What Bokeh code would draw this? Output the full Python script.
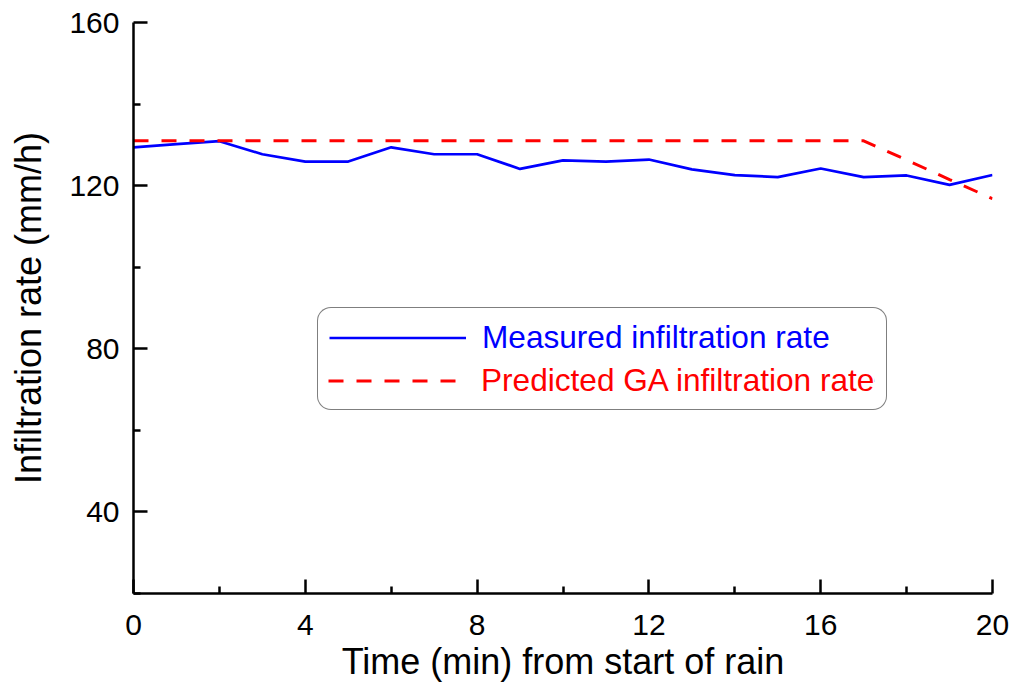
from bokeh.plotting import figure
from bokeh.models import Legend, LegendItem, FixedTicker
from bokeh.embed import file_html
from bokeh.resources import INLINE

# ---- data ----
time_min = [0, 1, 2, 3, 4, 5, 6, 7, 8, 9, 10, 11, 12, 13, 14, 15, 16, 17, 18, 19, 20]
measured = [129.4, 130.2, 130.9, 127.7, 125.9, 125.9, 129.4, 127.7, 127.7, 124.1, 126.2,
            125.9, 126.4, 124.0, 122.6, 122.1, 124.2, 122.1, 122.5, 120.2, 122.6]
predicted = [131.0, 131.0, 131.0, 131.0, 131.0, 131.0, 131.0, 131.0, 131.0, 131.0, 131.0,
             131.0, 131.0, 131.0, 131.0, 131.0, 131.0, 131.0, 126.3, 121.5, 116.8]
x_ticks = [0, 4, 8, 12, 16, 20]
x_minor = [2, 6, 10, 14, 18]
y_ticks = [40, 80, 120, 160]
y_minor = [20, 60, 100, 140]
label_measured = "Measured infiltration rate"
label_predicted = "Predicted GA infiltration rate"

FONT = "Liberation Sans"

p = figure(width=1012, height=684, x_range=(0, 20), y_range=(20, 160),
           output_backend="svg", toolbar_location=None,
           min_border_left=133, min_border_top=22, min_border_right=20, min_border_bottom=89)
p.outline_line_color = None
p.xgrid.visible = False
p.ygrid.visible = False
p.background_fill_color = "white"

r_meas = p.line(time_min, measured, line_color="#0000ff", line_width=2.7)
r_pred = p.line(time_min, predicted, line_color="#ff0000", line_width=3, line_dash="15 13")

for ax in (p.xaxis[0], p.yaxis[0]):
    ax.axis_line_width = 2.5
    ax.axis_line_color = "black"
    ax.major_tick_line_width = 2.5
    ax.minor_tick_line_width = 2.5
    ax.major_tick_in = 14
    ax.major_tick_out = 0
    ax.minor_tick_in = 7
    ax.minor_tick_out = 0
    ax.major_label_text_font = FONT
    ax.major_label_text_font_size = "30px"
    ax.major_label_text_color = "black"
    ax.axis_label_text_font = FONT
    ax.axis_label_text_font_size = "36px"
    ax.axis_label_text_font_style = "normal"
    ax.axis_label_text_color = "black"

p.xaxis.ticker = FixedTicker(ticks=x_ticks, minor_ticks=x_minor)
p.yaxis.ticker = FixedTicker(ticks=y_ticks, minor_ticks=y_minor)
p.xaxis.axis_label = "Time (min) from start of rain"
p.yaxis.axis_label = "Infiltration rate (mm/h)"
p.xaxis.major_label_standoff = 21
p.yaxis.major_label_standoff = 14
p.xaxis.axis_label_standoff = 3
p.yaxis.axis_label_standoff = 17

PAD = 11
LX, LY = 184, 183
common = dict(orientation="vertical", spacing=5, glyph_width=137, glyph_height=35,
              label_height=35, label_standoff=16, label_text_font=FONT,
              label_text_font_size="31.6px", margin=0)

legend_a = Legend(items=[LegendItem(label=label_measured, renderers=[r_meas]),
                         LegendItem(label=label_predicted, renderers=[r_pred])],
                  location=(LX, LY), padding=PAD, label_text_color="#0000ff",
                  border_line_color="black", border_line_width=1.5,
                  background_fill_color="white", background_fill_alpha=1.0, **common)
try:
    legend_a.border_radius = 14
except Exception:
    pass

legend_b = Legend(items=[LegendItem(label=label_predicted, renderers=[r_pred])],
                  location=(LX + PAD, LY + PAD), padding=0, label_text_color="#ff0000",
                  border_line_color=None, background_fill_color="white",
                  background_fill_alpha=1.0, **common)

p.add_layout(legend_a, "center")
p.add_layout(legend_b, "center")

open("out.html", "w").write(file_html(p, INLINE))
